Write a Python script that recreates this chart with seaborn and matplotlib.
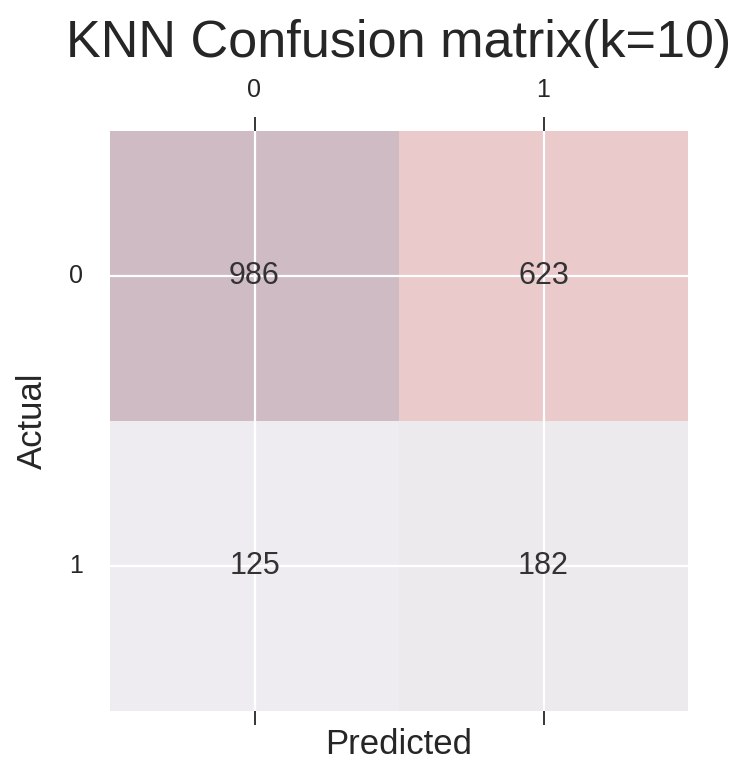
import numpy as np
import pandas as pd
import matplotlib
matplotlib.use("Agg")
import matplotlib.pyplot as plt
import seaborn as sns

# Confusion matrix counts for the KNN classifier (k=10)
actual_labels = ["0", "1"]
predicted_labels = ["0", "1"]
row_actual_0 = [986, 623]
row_actual_1 = [125, 182]

cm = pd.DataFrame([row_actual_0, row_actual_1],
                  index=actual_labels, columns=predicted_labels)

sns.set_style("darkgrid")
plt.rcParams["font.family"] = ["Liberation Sans", "DejaVu Sans"]

fig = plt.figure(figsize=(7.40, 7.61), dpi=100)
ax = fig.add_axes([110 / 740, 1 - 711 / 761, 578 / 740, 580 / 761])

sns.heatmap(cm, cmap="Reds", alpha=0.2, annot=True, fmt="d", cbar=False,
            square=False, ax=ax,
            annot_kws={"color": ".2", "size": 22})

# grid lines through the cell centres, as with a matshow on darkgrid
ax.set_axisbelow(False)
ax.grid(True, color="white", linewidth=1.6)

ax.xaxis.tick_top()
ax.xaxis.set_label_position("bottom")
ax.tick_params(axis="x", top=True, bottom=True, labeltop=True,
               labelbottom=False, length=10, width=1.3, color=".15",
               pad=11, labelsize=18, labelcolor=".15")
ax.tick_params(axis="y", left=False, length=0, pad=19.5, labelsize=18,
               labelcolor=".15", labelrotation=0)

ax.set_xlabel("Predicted", fontsize=25, color=".15", labelpad=2)
ax.set_ylabel("Actual", fontsize=25, color=".15", labelpad=14.5)
ax.set_title("KNN Confusion matrix(k=10)", fontsize=37.5, color=".15",
             y=1.128, pad=0)

fig.savefig("out.png", dpi=100)
